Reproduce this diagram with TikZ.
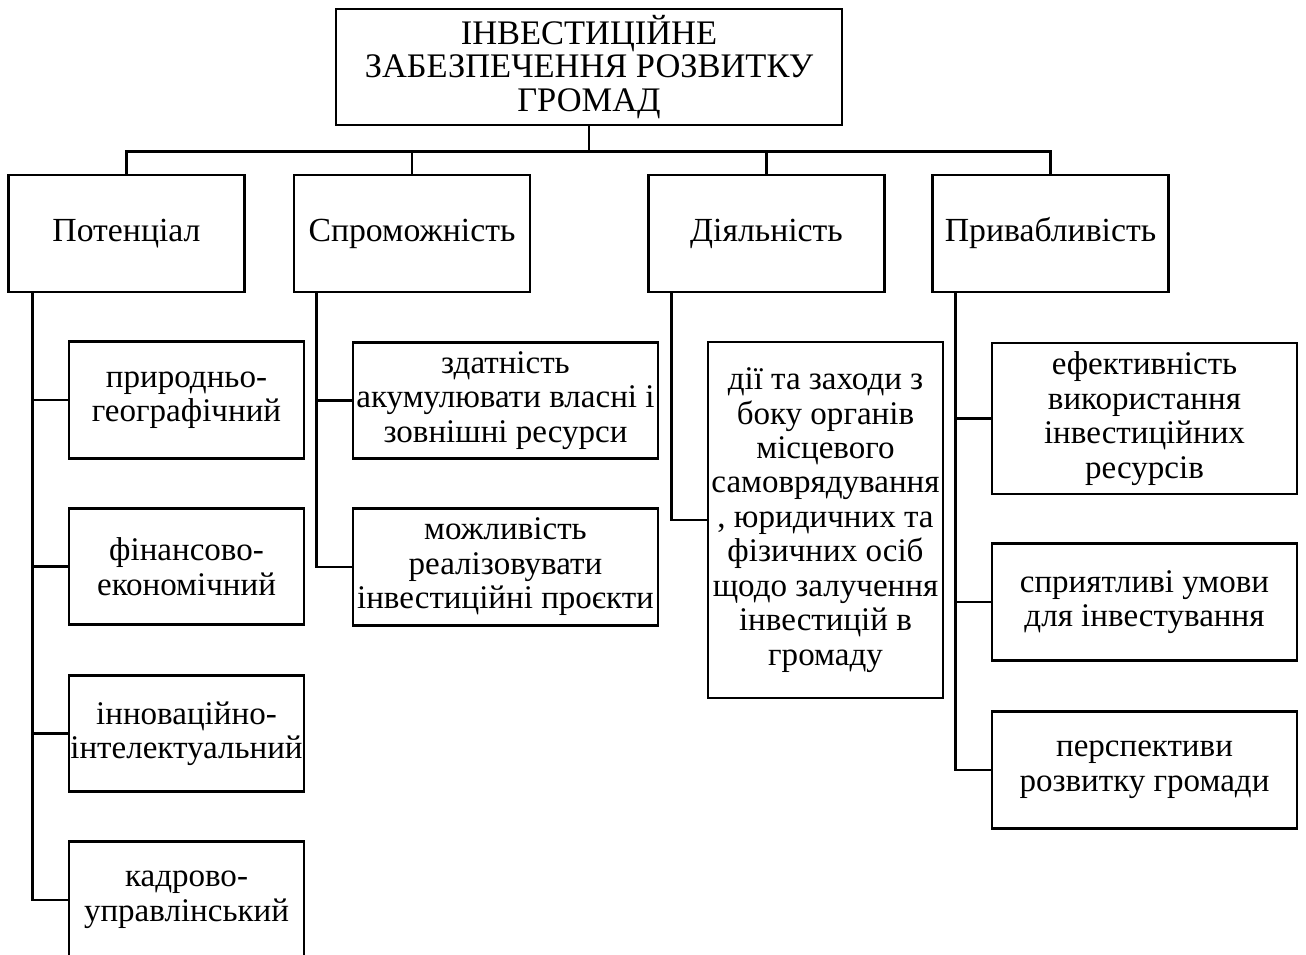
\documentclass[tikz,border=0pt]{standalone}
\usepackage{fontspec}
\setmainfont{Liberation Serif}

\begin{document}
\begin{tikzpicture}[x=0.02cm, y=-0.02cm, line width=1.6pt,
    main/.style ={rectangle, draw, minimum width=10.12cm, minimum height=2.32cm,
      inner sep=0pt, align=center, font=\fontsize{19.6}{19.1}\selectfont},
    group/.style ={rectangle, draw, minimum width=4.72cm, minimum height=2.34cm,
      inner sep=0pt, align=center, font=\fontsize{19.2}{19.1}\selectfont},
    item/.style ={rectangle, draw, minimum height=2.33cm,
      inner sep=0pt, align=center, font=\fontsize{18.8}{19.6}\selectfont}]
   \useasboundingbox (0,0) rectangle (1306,955);
   \clip (0,0) rectangle (1306,955);

   \node[main] (T) at (589,67) {ІНВЕСТИЦІЙНЕ\\ЗАБЕЗПЕЧЕННЯ РОЗВИТКУ\\ГРОМАД};

   \node[group] (A) at (126.5,233.5) {Потенціал};
   \node[group] (B) at (412,233.5) {Спроможність};
   \node[group] (C) at (766.5,233.5) {Діяльність};
   \node[group] (D) at (1050.5,233.5) {Привабливість};

   \node[item, minimum width=4.7cm] (A1) at (186.5,400) {природньо-\\географічний};
   \node[item, minimum width=4.7cm] (A2) at (186.5,566.5) {фінансово-\\економічний};
   \node[item, minimum width=4.7cm] (A3) at (186.5,733.5) {інноваційно-\\інтелектуальний};
   \node[item, minimum width=4.7cm] (A4) at (186.5,900) {кадрово-\\управлінський};

   \node[item, minimum width=6.1cm] (B1) at (505.5,400.5) {здатність\\акумулювати власні і\\зовнішні ресурси};
   \node[item, minimum width=6.1cm] (B2) at (505.5,567) {можливість\\реалізовувати\\інвестиційні проєкти};

   \node[item, minimum width=4.7cm, minimum height=7.12cm] (C1) at (825.5,520)
     {дії та заходи з\\боку органів\\місцевого\\самоврядування\\, юридичних та\\фізичних осіб\\щодо залучення\\інвестицій в\\громаду};

   \node[item, minimum width=6.1cm, minimum height=3.02cm] (D1) at (1144.5,418.5) {ефективність\\використання\\інвестиційних\\ресурсів};
   \node[item, minimum width=6.1cm] (D2) at (1144.5,602) {сприятливі умови\\для інвестування};
   \node[item, minimum width=6.1cm] (D3) at (1144.5,770) {перспективи\\розвитку громади};

   % top level
   \draw (T.south) -- ++(0,25) -| (A.north);
   \draw (T.south) -- ++(0,25) -| (B.north);
   \draw (T.south) -- ++(0,25) -| (C.north);
   \draw (T.south) -- ++(0,25) -| (D.north);

   % branches
   \draw (A.south west) ++(25,0) |- (A1.west);
   \draw (A.south west) ++(25,0) |- (A2.west);
   \draw (A.south west) ++(25,0) |- (A3.west);
   \draw (A.south west) ++(25,0) |- (A4.west);
   \draw (B.south west) ++(24,0) |- (B1.west);
   \draw (B.south west) ++(24,0) |- (B2.west);
   \draw (C.south west) ++(24,0) |- (C1.west);
   \draw (D.south west) ++(24,0) |- (D1.west);
   \draw (D.south west) ++(24,0) |- (D2.west);
   \draw (D.south west) ++(24,0) |- (D3.west);
 \end{tikzpicture}
\end{document}
